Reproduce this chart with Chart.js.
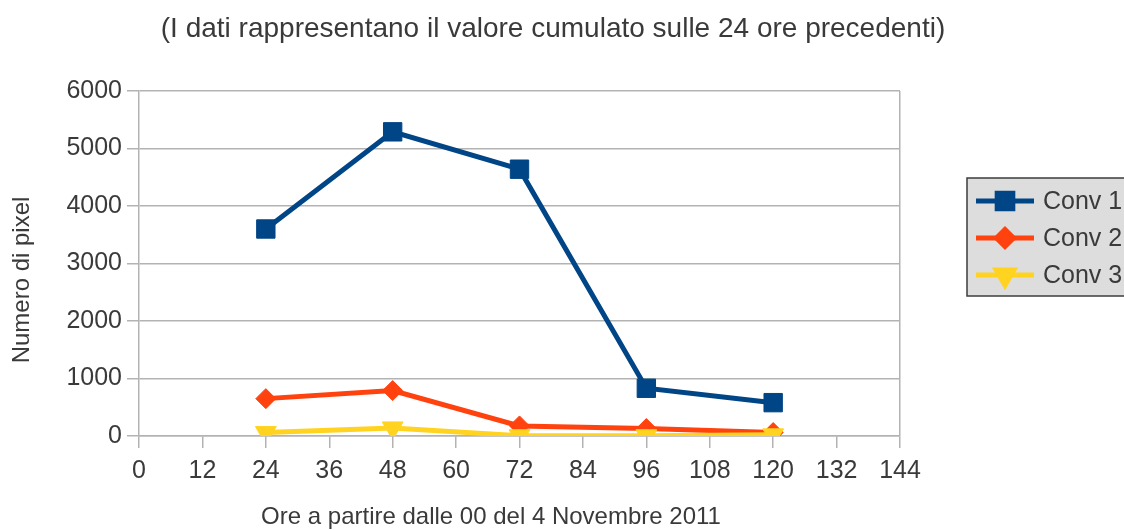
<!DOCTYPE html>
<html>
<head>
<meta charset="utf-8">
<script src="https://cdn.jsdelivr.net/npm/chart.js@4.4.0/dist/chart.umd.min.js"></script>
<style>
  html, body { margin: 0; padding: 0; background: #fff; }
</style>
</head>
<body>
<canvas id="chart" width="1124" height="530"></canvas>
<script>
// data
const hours = [24, 48, 72, 96, 120];
const conv1 = [3600, 5290, 4640, 830, 580];
const conv2 = [650, 790, 175, 130, 60];
const conv3 = [60, 140, 5, 5, 20];
const seriesNames = ['Conv 1', 'Conv 2', 'Conv 3'];
const xTickValues = [0, 12, 24, 36, 48, 60, 72, 84, 96, 108, 120, 132, 144];
const yTickValues = [0, 1000, 2000, 3000, 4000, 5000, 6000];

const titleText = '(I dati rappresentano il valore cumulato sulle 24 ore precedenti)';
const xTitle = 'Ore a partire dalle 00 del 4 Novembre 2011';
const yTitle = 'Numero di pixel';

const FONT = "'Liberation Sans', Arial, sans-serif";
const TEXT = '#3a3a3a';
const GRID = '#b3b3b3';
const colors = ['#004586', '#ff420e', '#ffd320'];
const markers = [
    { style: 'rect', radius: 13, rotation: 0 },
    { style: 'rectRot', radius: 10, rotation: 0 },
    { style: 'triangle', radius: 12, rotation: 180 }
];

const seriesData = [conv1, conv2, conv3];

// title, axis titles and the boxed legend on the right
const decor = {
    id: 'decor',
    afterDraw(chart) {
        const ctx = chart.ctx;
        ctx.save();
        ctx.fillStyle = TEXT;
        ctx.textBaseline = 'middle';
        ctx.textAlign = 'center';
        ctx.font = '28px ' + FONT;
        ctx.fillText(titleText, 553, 29);

        ctx.font = '24px ' + FONT;
        ctx.fillText(xTitle, 491, 517);
        ctx.save();
        ctx.translate(22, 280);
        ctx.rotate(-Math.PI / 2);
        ctx.fillText(yTitle, 0, 0);
        ctx.restore();

        // legend box
        ctx.fillStyle = '#dddddd';
        ctx.strokeStyle = '#3c3c3c';
        ctx.lineWidth = 1.5;
        ctx.fillRect(967, 178, 170, 118);
        ctx.strokeRect(967, 178, 170, 118);

        chart.data.datasets.forEach((ds, i) => {
            const y = 201 + i * 37;
            ctx.strokeStyle = ds.borderColor;
            ctx.lineWidth = 5;
            ctx.beginPath();
            ctx.moveTo(976, y);
            ctx.lineTo(1034, y);
            ctx.stroke();
            Chart.helpers.drawPoint(ctx, {
                pointStyle: ds.pointStyle,
                radius: ds.pointRadius * 0.85,
                rotation: ds.pointRotation,
                borderWidth: 1
            }, 1005, y);
            ctx.fillStyle = ds.borderColor;
            ctx.fill();
            ctx.fillStyle = TEXT;
            ctx.textAlign = 'left';
            ctx.font = '25px ' + FONT;
            ctx.fillText(ds.label, 1043, y + 1);
        });
        ctx.restore();
    }
};

const datasets = seriesNames.map((name, i) => ({
    label: name,
    data: hours.map((h, j) => ({ x: h, y: seriesData[i][j] })),
    borderColor: colors[i],
    backgroundColor: colors[i],
    borderWidth: 5,
    pointStyle: markers[i].style,
    pointRadius: markers[i].radius,
    pointHoverRadius: markers[i].radius,
    pointRotation: markers[i].rotation,
    pointBorderWidth: 1,
    tension: 0
}));
// draw Conv 3 first, Conv 1 on top
datasets[0].order = 3;
datasets[1].order = 2;
datasets[2].order = 1;

new Chart(document.getElementById('chart'), {
    type: 'line',
    data: { datasets },
    options: {
        responsive: false,
        animation: false,
        devicePixelRatio: 1,
        layout: { padding: { top: 91, right: 224, bottom: 0, left: 0 } },
        plugins: {
            legend: { display: false },
            title: { display: false },
            tooltip: { enabled: false }
        },
        scales: {
            x: {
                type: 'linear',
                min: 0,
                max: 144,
                afterBuildTicks: s => { s.ticks = xTickValues.map(v => ({ value: v })); },
                afterFit: s => { s.height = 94; },
                grid: {
                    color: c => (c.tick && c.tick.value === 144 ? GRID : 'rgba(0,0,0,0)'),
                    tickColor: GRID,
                    tickLength: 12,
                    lineWidth: 1.5
                },
                border: { color: GRID, width: 1.5 },
                ticks: {
                    color: TEXT, font: { family: FONT, size: 25 }, padding: 8,
                    maxRotation: 0, autoSkip: false, callback: v => String(v)
                }
            },
            y: {
                min: 0,
                max: 6000,
                afterBuildTicks: s => { s.ticks = yTickValues.map(v => ({ value: v })); },
                afterFit: s => { s.width = 139; },
                grid: { color: GRID, tickLength: 12, lineWidth: 1.5 },
                border: { color: GRID, width: 1.5 },
                ticks: { color: TEXT, font: { family: FONT, size: 25 }, padding: 5, callback: v => String(v) }
            }
        }
    },
    plugins: [decor]
});
</script>
</body>
</html>
